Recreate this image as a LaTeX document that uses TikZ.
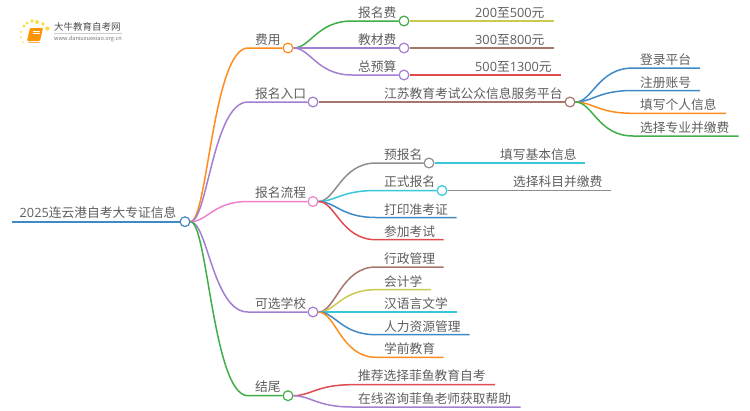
\documentclass[tikz,border=0pt]{standalone}
\usepackage{fontspec}
\setmainfont{Noto Sans CJK SC}
\newfontfamily\dg{Open Sans}
\definecolor{cOrange}{HTML}{FF8C1E}
\definecolor{cPurple}{HTML}{A27FD2}
\definecolor{cPink}{HTML}{EE82CC}
\definecolor{cGreen}{HTML}{40AE48}
\definecolor{cBlue}{HTML}{3F8AC6}
\definecolor{cBrown}{HTML}{A6756C}
\definecolor{cOlive}{HTML}{CBCA4E}
\definecolor{cCyan}{HTML}{38C6D9}
\definecolor{cRed}{HTML}{E04B50}
\definecolor{cGray}{HTML}{8E8E8E}
\definecolor{cText}{HTML}{5E5E5E}
\tikzset{
  x=1pt,y=-1pt,
  lbl/.style={anchor=west,inner sep=0pt,text=cText,font=\fontsize{12.75}{13}\selectfont},
  dot/.style={circle,draw=#1,fill=white,line width=1.2pt,minimum size=9.8pt,inner sep=0pt},
  wire/.style={draw=#1,line width=1.5pt},
}
% \bendline{colour}{from}{elbow}{to}: S-curve to the elbow, then straight on
\newcommand{\bendline}[4]{\draw[wire=#1] (#2.east) .. controls +(17,0) and +(-35,0) .. (#3) -- (#4);}
\begin{document}
\begin{tikzpicture}
\useasboundingbox (0,0) rectangle (750,410);
% logo
\foreach \px/\py/\r in {21/32/1.2,24/26/1.6,27/23/1.6,32/21/1.8,37/22/2,43/24/1.8,47.5/28.5/2.2,21/37/1,23/42/.8}
  \fill[color=yellow!70!orange,opacity=.75] (\px,\py) circle (\r);
\fill[orange!85!yellow,rounded corners=1pt] (30,28) -- (43,28) -- (40,41) -- (27,41) -- cycle;
\draw[orange!60!white,line width=.8pt] (27.5,42) -- (39.5,42);
\draw[white,line width=.6pt] (33,31) -- (40,31) (32.5,33.5) -- (39.5,33.5);
\node[anchor=west,inner sep=0pt,text=black!70,font=\fontsize{9.5}{10}\selectfont] (logotext) at (54,27) {大牛教育自考网};
\draw[black!20,line width=.5pt] (54,33.5) -- (122,33.5);
\node[anchor=west,inner sep=0pt,text=black!55,font=\fontsize{5.6}{6}\selectfont] (logourl) at (54,38.5) {www.daniuxuexiao.org.cn};

% root
\node[dot=cBlue] (root) at (185,221.7) {};
\coordinate (rootstart) at (12,221.7);
\draw[cBlue,line width=2.4pt] (rootstart) -- (root);
\node[lbl] (troot) at (19.5,213) {{\dg 2025}连云港自考大专证信息};

% level 1
\node[dot=cOrange] (fy) at (288,48) {};
\node[dot=cPurple] (rk) at (313,102) {};
\node[dot=cPink] (lc) at (313,201.5) {};
\node[dot=cPurple] (xx) at (313,312) {};
\node[dot=cGreen] (jw) at (288,395.7) {};
\coordinate (efy) at (248,48);
\coordinate (erk) at (248,102);
\coordinate (elc) at (248,201.5);
\coordinate (exx) at (248,312);
\coordinate (ejw) at (248,395.7);
\bendline{cOrange}{root}{efy}{fy}
\bendline{cPurple}{root}{erk}{rk}
\bendline{cPink}{root}{elc}{lc}
\bendline{cPurple}{root}{exx}{xx}
\bendline{cGreen}{root}{ejw}{jw}
\node[lbl] (tfy) at (255,40) {费用};
\node[lbl] (trk) at (255,94) {报名入口};
\node[lbl] (tlc) at (255,193) {报名流程};
\node[lbl] (txx) at (255,304) {可选学校};
\node[lbl] (tjw) at (255,387) {结尾};

% fees
\node[dot=cGreen] (bm) at (404,21) {};
\node[dot=cPurple] (jc) at (404,48) {};
\node[dot=cPurple] (zy) at (404,75) {};
\coordinate (ebm) at (352,21);
\coordinate (ejc) at (352,48);
\coordinate (ezy) at (352,75);
\bendline{cGreen}{fy}{ebm}{bm}
\bendline{cPurple}{fy}{ejc}{jc}
\bendline{cPurple}{fy}{ezy}{zy}
\coordinate (fbm) at (553.5,21);
\coordinate (fjc) at (553.5,48);
\coordinate (fzy) at (561,75);
\draw[wire=cOlive] (bm) -- (fbm);
\draw[wire=cBrown] (jc) -- (fjc);
\draw[wire=cRed] (zy) -- (fzy);
\node[lbl] (tbm) at (358,12.5) {报名费};
\node[lbl] (tjc) at (358,39.5) {教材费};
\node[lbl] (tzy) at (358,66.5) {总预算};
\node[lbl] (vbm) at (475,12.5) {{\dg 200}至{\dg 500}元};
\node[lbl] (vjc) at (475,39.5) {{\dg 300}至{\dg 800}元};
\node[lbl] (vzy) at (475,66.5) {{\dg 500}至{\dg 1300}元};

% entry
\node[dot=cBrown] (pt) at (570,102) {};
\draw[wire=cBrown] (rk) -- (pt);
\node[lbl] (tpt) at (384,94) {江苏教育考试公众信息服务平台};
\coordinate (e1) at (633,68);
\coordinate (e2) at (633,90.5);
\coordinate (e3) at (633,113.3);
\coordinate (e4) at (633,136);
\coordinate (f1) at (700,68);
\coordinate (f2) at (700,90.5);
\coordinate (f3) at (726,113.3);
\coordinate (f4) at (738.5,136);
\bendline{cBlue}{pt}{e1}{f1}
\bendline{cBlue}{pt}{e2}{f2}
\bendline{cOrange}{pt}{e3}{f3}
\bendline{cGreen}{pt}{e4}{f4}
\node[lbl] (t1) at (640,60) {登录平台};
\node[lbl] (t2) at (640,82.5) {注册账号};
\node[lbl] (t3) at (640,105) {填写个人信息};
\node[lbl] (t4) at (640,127.5) {选择专业并缴费};

% process
\node[dot=cGray] (yb) at (429,163) {};
\node[dot=cCyan] (zs) at (442,190.5) {};
\coordinate (eyb) at (376,163);
\coordinate (ezs) at (376,190.5);
\coordinate (edy) at (376,217.5);
\coordinate (eck) at (376,239.7);
\coordinate (fdy) at (456.5,217.5);
\coordinate (fck) at (443.5,239.7);
\bendline{cGray}{lc}{eyb}{yb}
\bendline{cCyan}{lc}{ezs}{zs}
\bendline{cBlue}{lc}{edy}{fdy}
\bendline{cRed}{lc}{eck}{fck}
\coordinate (fyb) at (585,163);
\coordinate (fzs) at (611,190.5);
\draw[wire=cCyan] (yb) -- (fyb);
\draw[wire=cGray] (zs) -- (fzs);
\node[lbl] (tyb) at (384,155) {预报名};
\node[lbl] (tzs) at (384,182) {正式报名};
\node[lbl] (tdy) at (384,209.5) {打印准考证};
\node[lbl] (tck) at (384,231.5) {参加考试};
\node[lbl] (vyb) at (500,155) {填写基本信息};
\node[lbl] (vzs) at (513,182) {选择科目并缴费};

% schools
\coordinate (ex1) at (376,267);
\coordinate (ex2) at (376,289.7);
\coordinate (ex3) at (376,312);
\coordinate (ex4) at (376,334.7);
\coordinate (ex5) at (376,357.3);
\coordinate (fx1) at (443.5,267);
\coordinate (fx2) at (431,289.7);
\coordinate (fx3) at (456.5,312);
\coordinate (fx4) at (469.5,334.7);
\coordinate (fx5) at (443.5,357.3);
\bendline{cBrown}{xx}{ex1}{fx1}
\bendline{cOlive}{xx}{ex2}{fx2}
\bendline{cCyan}{xx}{ex3}{fx3}
\bendline{cBlue}{xx}{ex4}{fx4}
\bendline{cOrange}{xx}{ex5}{fx5}
\node[lbl] (tx1) at (384,259) {行政管理};
\node[lbl] (tx2) at (384,281.5) {会计学};
\node[lbl] (tx3) at (384,304) {汉语言文学};
\node[lbl] (tx4) at (384,326.5) {人力资源管理};
\node[lbl] (tx5) at (384,349) {学前教育};

% ending
\coordinate (ej1) at (352,384.7);
\coordinate (ej2) at (352,407);
\coordinate (fj1) at (495,384.7);
\coordinate (fj2) at (520.5,407);
\bendline{cRed}{jw}{ej1}{fj1}
\bendline{cPurple}{jw}{ej2}{fj2}
\node[lbl] (tj1) at (358,376) {推荐选择菲鱼教育自考};
\node[lbl] (tj2) at (358,398.5) {在线咨询菲鱼老师获取帮助};
\end{tikzpicture}
\end{document}
